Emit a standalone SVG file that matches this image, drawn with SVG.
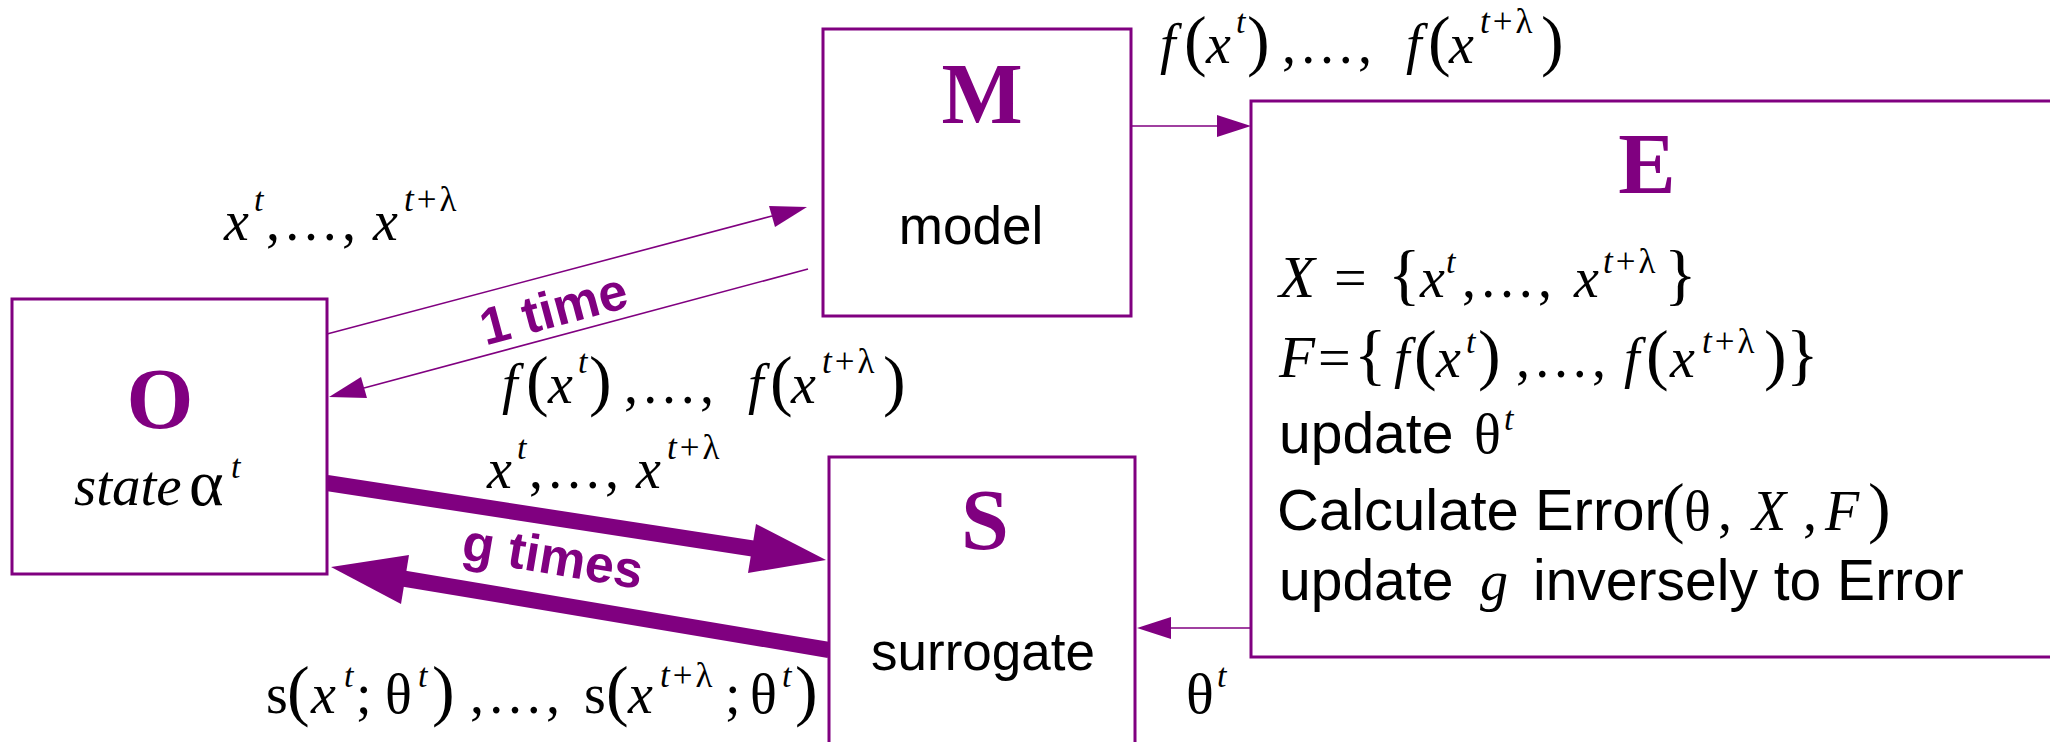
<svg xmlns="http://www.w3.org/2000/svg" width="2050" height="742" viewBox="0 0 2050 742">
<style>
.box{fill:#fff;stroke:#800080;stroke-width:3}
.thin{stroke:#800080;stroke-width:1.6;fill:none}
.thick{stroke:#800080;stroke-width:16;fill:none}
.head{fill:#800080;stroke:none}
.big{font-family:"Liberation Serif",serif;font-weight:bold;font-size:86px;fill:#800080;text-anchor:middle}
.lbl{font-family:"Liberation Sans",sans-serif;font-size:53px;fill:#000}
.sans{font-family:"Liberation Sans",sans-serif;font-size:57px;fill:#000}
.bl{font-family:"Liberation Sans",sans-serif;font-weight:bold;font-size:52px;fill:#800080;text-anchor:middle}
.m{font-family:"Liberation Serif",serif;font-size:56px;fill:#000}
.i{font-style:italic}
.s{font-size:34px}
.sp{font-size:35px;letter-spacing:3px}
.e{letter-spacing:3px}
.p{font-size:68px}
</style>
<g id="connectors">
  <line class="thin" x1="327" y1="334" x2="772" y2="216"/>
  <polygon class="head" points="807,207 775,227 769,206"/>
  <line class="thin" x1="808" y1="269" x2="364" y2="388"/>
  <polygon class="head" points="329,397 361,377 367,398"/>
  <line class="thin" x1="1131" y1="126" x2="1218" y2="126"/>
  <polygon class="head" points="1251,126 1217,115 1217,137"/>
  <line class="thin" x1="1251" y1="628" x2="1170" y2="628"/>
  <polygon class="head" points="1137,628 1171,617 1171,639"/>
  <line class="thick" x1="327" y1="483" x2="756" y2="549"/>
  <polygon class="head" points="826,560 748,573 756,524"/>
  <line class="thick" x1="829" y1="650" x2="400" y2="578"/>
  <polygon class="head" points="331,567 409,555 401,604"/>
</g>
<g id="node-O">
  <rect class="box" x="12" y="299" width="315" height="275"/>
  <text class="big" x="160" y="428">O</text>
  <text class="m" y="505"><tspan class="i" x="74" font-size="57">state</tspan><tspan x="189" font-size="66">α</tspan><tspan class="i s" x="231" y="478">t</tspan></text>
</g>
<g id="node-M">
  <rect class="box" x="823" y="29" width="308" height="287"/>
  <text class="big" x="982" y="123">M</text>
  <text class="lbl" x="971" y="244" text-anchor="middle">model</text>
</g>
<g id="node-S">
  <rect class="box" x="829" y="457" width="306" height="300"/>
  <text class="big" x="985" y="549">S</text>
  <text class="lbl" x="983" y="670" text-anchor="middle">surrogate</text>
</g>
<g id="node-E">
  <rect class="box" x="1251" y="101" width="850" height="556"/>
  <text class="big" x="1647" y="193">E</text>
  <text class="m" y="297"><tspan class="i" x="1279" font-size="59">X</tspan><tspan x="1334" font-size="58">=</tspan><tspan class="p" x="1388">{</tspan><tspan class="i" x="1420">x</tspan><tspan class="i s" x="1446" y="273">t</tspan><tspan class="e" x="1462" y="297">,…,</tspan><tspan class="i" x="1574">x</tspan><tspan class="sp" x="1603" y="273"><tspan class="i">t</tspan>+λ</tspan><tspan class="p" x="1664" y="297">}</tspan></text>
  <text class="m" y="377"><tspan class="i" x="1279" font-size="59">F</tspan><tspan x="1318" font-size="58">=</tspan><tspan class="p" x="1354">{</tspan><tspan class="i" x="1394">f</tspan><tspan class="p" x="1414">(</tspan><tspan class="i" x="1436">x</tspan><tspan class="i s" x="1466" y="353">t</tspan><tspan class="p" x="1478" y="377">)</tspan><tspan class="e" x="1516">,…,</tspan><tspan class="i" x="1624">f</tspan><tspan class="p" x="1646">(</tspan><tspan class="i" x="1670">x</tspan><tspan class="sp" x="1702" y="353"><tspan class="i">t</tspan>+λ</tspan><tspan class="p" x="1764" y="377">)</tspan><tspan class="p" x="1786">}</tspan></text>
  <text class="sans" y="453"><tspan x="1279">update</tspan><tspan class="m" x="1474" font-size="60">θ</tspan><tspan class="m i s" x="1504" y="430">t</tspan></text>
  <text class="sans" y="530"><tspan x="1277" font-size="58">Calculate Error</tspan><tspan class="m p" x="1662">(</tspan><tspan class="m" x="1684" font-size="60">θ</tspan><tspan class="m" x="1718">,</tspan><tspan class="m i" x="1752" font-size="60">X</tspan><tspan class="m" x="1803">,</tspan><tspan class="m i" x="1825" font-size="60">F</tspan><tspan class="m p" x="1868">)</tspan></text>
  <text class="sans" y="600"><tspan x="1279">update</tspan><tspan class="m i" x="1480" font-size="60">g</tspan><tspan x="1533">inversely to Error</tspan></text>
</g>
<g id="labels">
  <text class="m" y="63"><tspan class="i" x="1160">f</tspan><tspan class="p" x="1184">(</tspan><tspan class="i" x="1206">x</tspan><tspan class="i s" x="1236" y="33">t</tspan><tspan class="p" x="1247" y="63">)</tspan><tspan class="e" x="1282">,…,</tspan><tspan class="i" x="1406">f</tspan><tspan class="p" x="1428">(</tspan><tspan class="i" x="1449">x</tspan><tspan class="sp" x="1480" y="33"><tspan class="i">t</tspan>+λ</tspan><tspan class="p" x="1541" y="63">)</tspan></text>
  <text class="m" y="403"><tspan class="i" x="502">f</tspan><tspan class="p" x="526">(</tspan><tspan class="i" x="548">x</tspan><tspan class="i s" x="578" y="373">t</tspan><tspan class="p" x="589" y="403">)</tspan><tspan class="e" x="624">,…,</tspan><tspan class="i" x="748">f</tspan><tspan class="p" x="770">(</tspan><tspan class="i" x="791">x</tspan><tspan class="sp" x="822" y="373"><tspan class="i">t</tspan>+λ</tspan><tspan class="p" x="883" y="403">)</tspan></text>
  <text class="m" y="240"><tspan class="i" x="224">x</tspan><tspan class="i s" x="254" y="211">t</tspan><tspan class="e" x="266" y="240">,…,</tspan><tspan class="i" x="373">x</tspan><tspan class="sp" x="404" y="211"><tspan class="i">t</tspan>+λ</tspan></text>
  <text class="m" y="488"><tspan class="i" x="487">x</tspan><tspan class="i s" x="517" y="459">t</tspan><tspan class="e" x="529" y="488">,…,</tspan><tspan class="i" x="636">x</tspan><tspan class="sp" x="667" y="459"><tspan class="i">t</tspan>+λ</tspan></text>
  <text class="m" y="713"><tspan x="266">s</tspan><tspan class="p" x="287">(</tspan><tspan class="i" x="311">x</tspan><tspan class="i s" x="344" y="687">t</tspan><tspan x="356" y="713">;</tspan><tspan x="385">θ</tspan><tspan class="i s" x="418" y="687">t</tspan><tspan class="p" x="432" y="713">)</tspan><tspan class="e" x="470">,…,</tspan><tspan x="584">s</tspan><tspan class="p" x="606">(</tspan><tspan class="i" x="628">x</tspan><tspan class="sp" x="660" y="687"><tspan class="i">t</tspan>+λ</tspan><tspan x="725" y="713">;</tspan><tspan x="750">θ</tspan><tspan class="i s" x="782" y="687">t</tspan><tspan class="p" x="795" y="713">)</tspan></text>
  <text class="m" y="713"><tspan x="1186" font-size="58">θ</tspan><tspan class="i s" x="1217" y="687">t</tspan></text>
  <text class="bl" x="558" y="326" transform="rotate(-15 558 326)">1 time</text>
  <text class="bl" x="550" y="574" transform="rotate(9.5 550 574)">g times</text>
</g>
</svg>
